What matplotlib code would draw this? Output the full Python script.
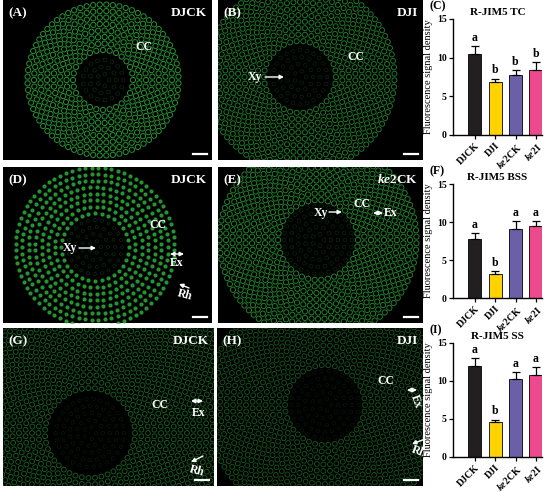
import numpy as np
import matplotlib
matplotlib.use("Agg")
import matplotlib.pyplot as plt

plt.rcParams['font.family'] = ['Liberation Serif', 'DejaVu Serif']
plt.rcParams['mathtext.fontset'] = 'custom'
plt.rcParams['mathtext.it'] = 'Liberation Serif:italic:bold'
plt.rcParams['mathtext.rm'] = 'Liberation Serif:bold'

# ---------------- data ----------------
genotypes = ["DJCK", "DJI", r"$\mathit{ke2}$CK", r"$\mathit{ke2}$I"]
bar_colors = ["#231f20", "#ffd200", "#6b5fa8", "#ec4a8c"]

tc_mean = [10.5, 6.9, 7.7, 8.4]
tc_err = [1.0, 0.4, 0.7, 1.0]
tc_sig = ["a", "b", "b", "b"]

bss_mean = [7.8, 3.2, 9.1, 9.5]
bss_err = [0.7, 0.3, 1.0, 0.6]
bss_sig = ["a", "b", "a", "a"]

ss_mean = [12.0, 4.6, 10.2, 10.8]
ss_err = [1.0, 0.3, 1.0, 1.0]
ss_sig = ["a", "b", "a", "a"]

y_ticks = [0, 5, 10, 15]
titles = ["R-JIM5 TC", "R-JIM5 BSS", "R-JIM5 SS"]
panel_labels_bar = ["(C)", "(F)", "(I)"]

W, H = 550, 492
fig = plt.figure(figsize=(W / 100, H / 100), dpi=100)
fig.patch.set_facecolor("white")


def fax(x0, y0, w, h):
    return fig.add_axes([x0 / W, 1 - (y0 + h) / H, w / W, h / H])


# ---------------- microscopy panels (stylised) ----------------
def root(ax, cx, cy, r_in, r_out, color, size, alpha, filled=False):
    step = 6.5
    k = 0
    for r in np.arange(r_in, r_out, step):
        n = int(2 * np.pi * r / step)
        a = np.linspace(0, 2 * np.pi, n, endpoint=False) + (k % 2) * np.pi / n
        xs = cx + r * np.cos(a)
        ys = cy + r * np.sin(a)
        if filled:
            ax.scatter(xs, ys, s=size, c=color, alpha=alpha, linewidths=0)
        else:
            ax.scatter(xs, ys, s=size, facecolors="none", edgecolors=color,
                       alpha=alpha, linewidths=0.7)
        k += 1
    # faint stele
    for r in np.arange(6, r_in - 4, 7):
        n = int(2 * np.pi * r / 7)
        a = np.linspace(0, 2 * np.pi, n, endpoint=False)
        ax.scatter(cx + r * np.cos(a), cy + r * np.sin(a), s=size * 0.5,
                   facecolors="none", edgecolors=color, alpha=alpha * 0.3,
                   linewidths=0.5)


def img_panel(x0, y0, w, h, lab, name, rootspec, notes, bar=True):
    ax = fax(x0, y0, w, h)
    ax.set_facecolor("black")
    ax.set_xlim(0, w)
    ax.set_ylim(h, 0)
    ax.set_xticks([])
    ax.set_yticks([])
    for s in ax.spines.values():
        s.set_visible(False)
    root(ax, *rootspec)
    tk = dict(color="white", fontweight="bold", fontsize=9.5)
    ax.text(5, 13, lab, ha="left", va="center", **tk)
    ax.text(w - 5, 13, name, ha="right", va="center", **tk)
    if bar:
        ax.plot([w - 19, w - 5], [h - 6, h - 6], color="white", lw=1.6)
    for n in notes:
        kind = n[0]
        if kind == "t":
            _, x, y, s, fs, rot = n
            ax.text(x, y, s, color="white", fontweight="bold", fontsize=fs,
                    ha="left", va="center", rotation=rot)
        elif kind == "a":
            _, x1, y1, x2, y2, style = n
            ax.annotate("", xy=(x2, y2), xytext=(x1, y1),
                        arrowprops=dict(arrowstyle=style, color="white", lw=1.0,
                                        shrinkA=0, shrinkB=0,
                                        mutation_scale=6))
    return ax


G = "#33c542"
# (A)
img_panel(3, 0, 209, 160, "(A)", "DJCK", (100, 80, 30, 80, G, 14, 0.75),
          [("t", 132, 47, "CC", 8.5, 0)])
# (B)
img_panel(218, 0, 205, 160, "(B)", "DJI", (82, 77, 36, 95, G, 13, 0.6),
          [("t", 129, 57, "CC", 8.5, 0),
           ("t", 30, 77, "Xy", 8.5, 0),
           ("a", 47, 77, 66, 77, "-|>")])
# (D)
img_panel(3, 167, 209, 156, "(D)", "DJCK", (92, 80, 34, 84, G, 9, 0.75, True),
          [("t", 146, 58, "CC", 8.5, 0),
           ("t", 60, 81, "Xy", 8.5, 0),
           ("a", 76, 81, 93, 81, "-|>"),
           ("a", 167, 87, 181, 87, "<|-|>"),
           ("t", 167, 96, "Ex", 8.5, 0),
           ("a", 186, 121, 176, 117, "-|>"),
           ("t", 173, 128, "Rh", 8.5, -15)])
# (E)
img_panel(218, 167, 205, 156, "(E)", r"$\mathit{ke2}$CK",
          (100, 73, 40, 100, G, 14, 0.65),
          [("t", 135, 37, "CC", 8.5, 0),
           ("t", 96, 46, "Xy", 8.5, 0),
           ("a", 111, 45, 124, 45, "-|>"),
           ("a", 155, 46, 165, 46, "<|-|>"),
           ("t", 166, 46, "Ex", 8.5, 0)])
# (G)
img_panel(3, 328, 211, 158, "(G)", "DJCK", (87, 105, 45, 180, G, 12, 0.45),
          [("t", 148, 77, "CC", 8.5, 0),
           ("a", 188, 73, 200, 73, "<|-|>"),
           ("t", 189, 85, "Ex", 8.5, 0),
           ("a", 200, 128, 188, 134, "-|>"),
           ("t", 185, 143, "Rh", 8.5, -15)])
# (H)
img_panel(217, 328, 206, 158, "(H)", "DJI", (108, 77, 40, 120, G, 12, 0.4),
          [("t", 160, 53, "CC", 8.5, 0),
           ("a", 190, 62, 200, 62, "<|-|>"),
           ("t", 191, 73, "Ex", 8.5, -70),
           ("a", 208, 111, 195, 116, "-|>"),
           ("t", 193, 124, "Rh", 8.5, -20)])


# ---------------- bar charts ----------------
def bar_panel(y_top, y_bot, means, errs, sigs, title, plab):
    ax = fax(453, y_top, 89, y_bot - y_top)
    x = np.arange(len(means))
    ax.bar(x, means, width=0.65, color=bar_colors, edgecolor="black",
           linewidth=0.6, zorder=2)
    ax.errorbar(x, means, yerr=[np.zeros(len(errs)), errs], fmt="none",
                ecolor="black", elinewidth=0.9, capsize=3, capthick=0.9,
                zorder=3)
    for xi, m, e, s in zip(x, means, errs, sigs):
        ax.text(xi, m + e + 0.3, s, ha="center", va="bottom",
                fontsize=8.5, fontweight="bold")
    ax.set_xlim(-1.07, 3.3)
    ax.set_ylim(0, 15)
    ax.set_yticks(y_ticks)
    ax.set_yticklabels([str(t) for t in y_ticks], fontsize=7, fontweight="bold")
    ax.set_xticks(x)
    ax.set_xticklabels(genotypes, rotation=45, ha="right", rotation_mode="anchor",
                       fontsize=7, fontweight="bold")
    ax.tick_params(axis="both", length=3, width=0.9, pad=1.5)
    for s in ["top", "right"]:
        ax.spines[s].set_visible(False)
    for s in ["left", "bottom"]:
        ax.spines[s].set_linewidth(1.0)
    ax.set_ylabel("Fluorescence signal density", fontsize=7.5, labelpad=3)
    ax.set_title(title, fontsize=8, fontweight="bold", pad=3)
    fig.text(429 / W, 1 - (y_top - 13) / H, plab, fontsize=8.5,
             fontweight="bold", ha="left", va="center")
    return ax


bar_panel(19, 135, tc_mean, tc_err, tc_sig, titles[0], panel_labels_bar[0])
bar_panel(184, 298, bss_mean, bss_err, bss_sig, titles[1], panel_labels_bar[1])
bar_panel(343, 457, ss_mean, ss_err, ss_sig, titles[2], panel_labels_bar[2])

fig.savefig("out.png", dpi=100, facecolor="white")
